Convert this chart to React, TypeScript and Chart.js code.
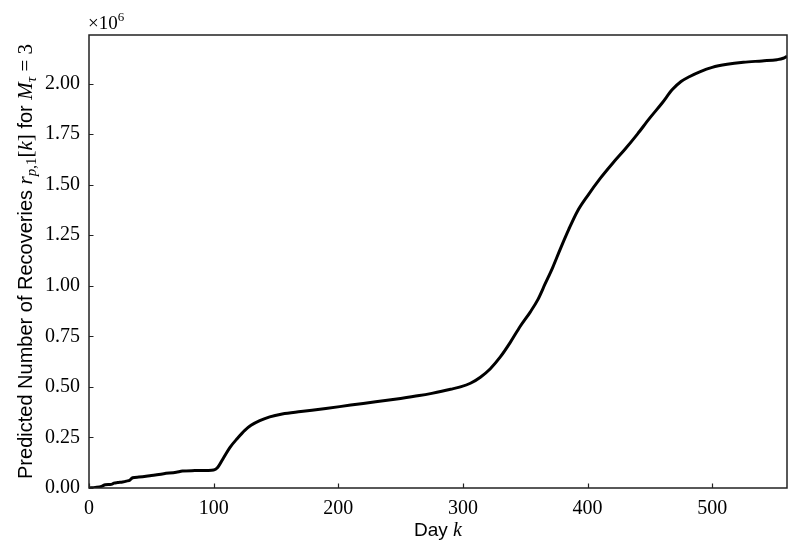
import React, { useEffect, useRef } from "react";
import { Chart, registerables } from "chart.js";

Chart.register(...registerables);

// Day index k
const days = [0, 5, 10, 13, 18, 20, 23, 27, 30, 33, 35, 40, 50, 60, 70, 75, 85, 95, 100, 103, 108, 113, 119, 125, 130, 137, 145, 155, 170, 190, 210, 230, 250, 265, 275, 283, 290, 298, 306, 314, 322, 330, 338, 346, 354, 360, 366, 372, 378, 385, 392, 400, 410, 420, 430, 440, 450, 460, 468, 475, 482, 490, 500, 512, 525, 540, 552, 557, 560];
// Predicted recoveries, in millions
const recoveriesMillions = [0, 0.003, 0.008, 0.016, 0.018, 0.024, 0.027, 0.03, 0.034, 0.04, 0.051, 0.054, 0.062, 0.071, 0.078, 0.084, 0.086, 0.087, 0.089, 0.1, 0.15, 0.2, 0.245, 0.285, 0.31, 0.333, 0.352, 0.366, 0.378, 0.393, 0.41, 0.426, 0.443, 0.457, 0.468, 0.478, 0.488, 0.5, 0.518, 0.548, 0.59, 0.648, 0.72, 0.8, 0.87, 0.93, 1.01, 1.09, 1.18, 1.28, 1.37, 1.445, 1.53, 1.605, 1.675, 1.75, 1.83, 1.905, 1.97, 2.01, 2.035, 2.058, 2.08, 2.095, 2.105, 2.112, 2.118, 2.125, 2.135];

const xTicks = [0, 100, 200, 300, 400, 500];
const yTicksMillions = [0, 0.25, 0.5, 0.75, 1.0, 1.25, 1.5, 1.75, 2.0];
const xMin = 0;
const xMax = 560;
const yMaxMillions = 2.24;

const SERIF = "'Liberation Serif', 'DejaVu Serif', serif";
const SANS = "'Liberation Sans', 'DejaVu Sans', sans-serif";

type Seg = { t: string; font: string; dy?: number };

function drawSegs(ctx: CanvasRenderingContext2D, segs: Seg[], cx: number, baseline: number) {
  let total = 0;
  for (const s of segs) {
    ctx.font = s.font;
    total += ctx.measureText(s.t).width;
  }
  let x = cx - total / 2;
  for (const s of segs) {
    ctx.font = s.font;
    ctx.fillText(s.t, x, baseline + (s.dy || 0));
    x += ctx.measureText(s.t).width;
  }
}

const framePlugin = {
  id: "framePlugin",
  afterDatasetsDraw(chart: any) {
    const ctx: CanvasRenderingContext2D = chart.ctx;
    const a = chart.chartArea;
    const xs = chart.scales.x;
    const ys = chart.scales.y;
    ctx.save();
    ctx.strokeStyle = "#222";
    ctx.lineWidth = 1.5;
    ctx.strokeRect(a.left, a.top, a.right - a.left, a.bottom - a.top);
    ctx.lineWidth = 1.2;
    ctx.beginPath();
    for (const v of xTicks) {
      const px = Math.round(xs.getPixelForValue(v)) + 0.5;
      ctx.moveTo(px, a.bottom);
      ctx.lineTo(px, a.bottom - 4.5);
    }
    for (const v of yTicksMillions) {
      const py = Math.round(ys.getPixelForValue(v * 1e6)) + 0.5;
      ctx.moveTo(a.left, py);
      ctx.lineTo(a.left + 4.5, py);
    }
    ctx.stroke();

    ctx.fillStyle = "#000";
    ctx.textAlign = "left";
    ctx.textBaseline = "alphabetic";
    // x axis title
    drawSegs(ctx, [
      { t: "Day ", font: `19px ${SANS}` },
      { t: "k", font: `italic 20px ${SERIF}` },
    ], (a.left + a.right) / 2, 536);

    // multiplier
    ctx.font = `19px ${SERIF}`;
    ctx.fillText("×10", a.left - 1, 29);
    const w = ctx.measureText("×10").width;
    ctx.font = `13px ${SERIF}`;
    ctx.fillText("6", a.left - 1 + w, 21);

    // y axis title
    ctx.translate(32, (a.top + a.bottom) / 2);
    ctx.rotate(-Math.PI / 2);
    drawSegs(ctx, [
      { t: "Predicted Number of Recoveries ", font: `20px ${SANS}` },
      { t: "r", font: `italic 21px ${SERIF}` },
      { t: "p", font: `italic 15px ${SERIF}`, dy: 4 },
      { t: ",1", font: `15px ${SERIF}`, dy: 4 },
      { t: "[", font: `21px ${SERIF}` },
      { t: "k", font: `italic 21px ${SERIF}` },
      { t: "]", font: `21px ${SERIF}` },
      { t: " for ", font: `20px ${SANS}` },
      { t: "M", font: `italic 21px ${SERIF}` },
      { t: "τ", font: `italic 15px ${SERIF}`, dy: 4 },
      { t: " = 3", font: `21px ${SERIF}` },
    ], 0, 0);
    ctx.restore();
  },
};

export default function App() {
  const ref = useRef<HTMLCanvasElement | null>(null);
  useEffect(() => {
    if (!ref.current) return;
    const points = days.map((d, i) => ({ x: d, y: recoveriesMillions[i] * 1e6 }));
    const chart = new Chart(ref.current, {
      type: "line",
      data: {
        datasets: [
          {
            data: points,
            borderColor: "#000",
            borderWidth: 3,
            pointRadius: 0,
            fill: false,
            cubicInterpolationMode: "monotone",
          },
        ],
      },
      options: {
        responsive: false,
        animation: false,
        devicePixelRatio: 1,
        layout: { padding: { top: 35, right: 14, left: 0, bottom: 0 } },
        plugins: { legend: { display: false }, tooltip: { enabled: false } },
        scales: {
          x: {
            type: "linear",
            min: xMin,
            max: xMax,
            grid: { display: false, drawTicks: false },
            border: { display: false },
            afterBuildTicks: (s: any) => {
              s.ticks = xTicks.map((v) => ({ value: v }));
            },
            afterFit: (s: any) => {
              s.height = 68;
            },
            ticks: {
              padding: 9,
              color: "#000",
              font: { family: SERIF, size: 20 },
              maxRotation: 0,
              callback: (v: any) => String(v),
            },
          },
          y: {
            type: "linear",
            min: 0,
            max: yMaxMillions * 1e6,
            grid: { display: false, drawTicks: false },
            border: { display: false },
            afterBuildTicks: (s: any) => {
              s.ticks = yTicksMillions.map((v) => ({ value: v * 1e6 }));
            },
            afterFit: (s: any) => {
              s.width = 89;
            },
            ticks: {
              padding: 9,
              color: "#000",
              font: { family: SERIF, size: 20 },
              callback: (v: any) => (Number(v) / 1e6).toFixed(2),
            },
          },
        },
      },
      plugins: [framePlugin],
    } as any);
    return () => chart.destroy();
  }, []);
  return (
    <div style={{ position: "absolute", left: 0, top: 0, width: 801, height: 556, background: "#fff" }}>
      <canvas ref={ref} width={801} height={556} style={{ width: 801, height: 556, display: "block" }} />
    </div>
  );
}
